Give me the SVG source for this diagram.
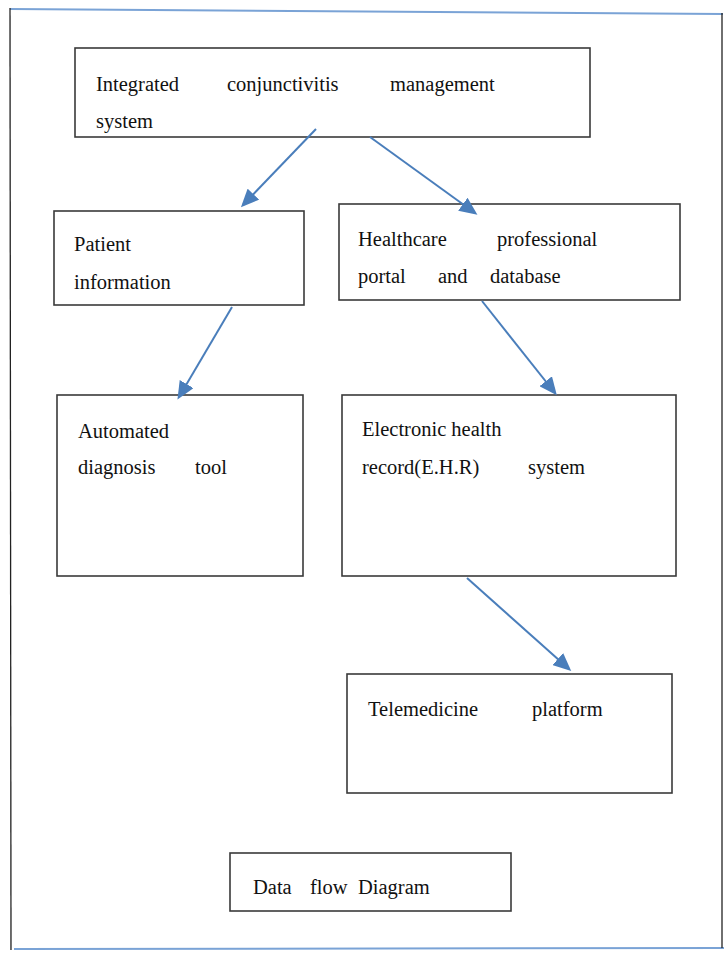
<svg xmlns="http://www.w3.org/2000/svg" width="727" height="954" viewBox="0 0 727 954">
<style>
.box{fill:#fff;stroke:#3a3a3a;stroke-width:1.6}
.t{font-size:20.5px;fill:#111}
.c{stroke:#4a7ebb;stroke-width:2;fill:none;marker-end:url(#ah)}
.fb{stroke:#7aa3d6;stroke-width:2}
.fk{stroke:#222;stroke-width:1.3}
</style>
<defs>
<marker id="ah" markerWidth="9" markerHeight="8" refX="7.5" refY="4" orient="auto" markerUnits="strokeWidth">
<path d="M0,0 L9,4 L0,8 z" fill="#4a7ebb"/>
</marker>
</defs>
<rect width="727" height="954" fill="#fff"/>
<g id="frame">
<line class="fb" x1="10" y1="9" x2="723" y2="14"/>
<line class="fb" x1="14" y1="949" x2="724" y2="948"/>
<line class="fk" x1="10" y1="8" x2="11" y2="950"/>
<line class="fk" x1="722" y1="13" x2="722" y2="948"/>
</g>
<g font-family="Times New Roman, Liberation Serif, serif">
<g id="n-ics">
<rect class="box" x="75" y="48" width="515" height="89"/>
<text class="t" y="91"><tspan x="96">Integrated</tspan><tspan x="227">conjunctivitis</tspan><tspan x="390">management</tspan></text>
<text class="t" x="96" y="128">system</text>
</g>
<g id="n-patient">
<rect class="box" x="54" y="211" width="250" height="94"/>
<text class="t" x="74" y="251">Patient</text>
<text class="t" x="74" y="289">information</text>
</g>
<g id="n-portal">
<rect class="box" x="339" y="204" width="341" height="96"/>
<text class="t" y="246"><tspan x="358">Healthcare</tspan><tspan x="497">professional</tspan></text>
<text class="t" y="283"><tspan x="358">portal</tspan><tspan x="438">and</tspan><tspan x="490">database</tspan></text>
</g>
<g id="n-diag">
<rect class="box" x="57" y="395" width="246" height="181"/>
<text class="t" x="78" y="438">Automated</text>
<text class="t" y="474"><tspan x="78">diagnosis</tspan><tspan x="195">tool</tspan></text>
</g>
<g id="n-ehr">
<rect class="box" x="342" y="395" width="334" height="181"/>
<text class="t" x="362" y="436">Electronic health</text>
<text class="t" y="474"><tspan x="362">record(E.H.R)</tspan><tspan x="528">system</tspan></text>
</g>
<g id="n-tele">
<rect class="box" x="347" y="674" width="325" height="119"/>
<text class="t" y="716"><tspan x="368">Telemedicine</tspan><tspan x="532">platform</tspan></text>
</g>
<g id="n-title">
<rect class="box" x="230" y="853" width="281" height="58"/>
<text class="t" y="894"><tspan x="253">Data</tspan><tspan x="310">flow</tspan><tspan x="358">Diagram</tspan></text>
</g>
</g>
<g id="connectors">
<line class="c" x1="316" y1="129" x2="243" y2="205"/>
<line class="c" x1="370" y1="137" x2="475" y2="213"/>
<line class="c" x1="232" y1="307" x2="179" y2="397"/>
<line class="c" x1="482" y1="301" x2="555" y2="393"/>
<line class="c" x1="467" y1="578" x2="569" y2="669"/>
</g>
</svg>
